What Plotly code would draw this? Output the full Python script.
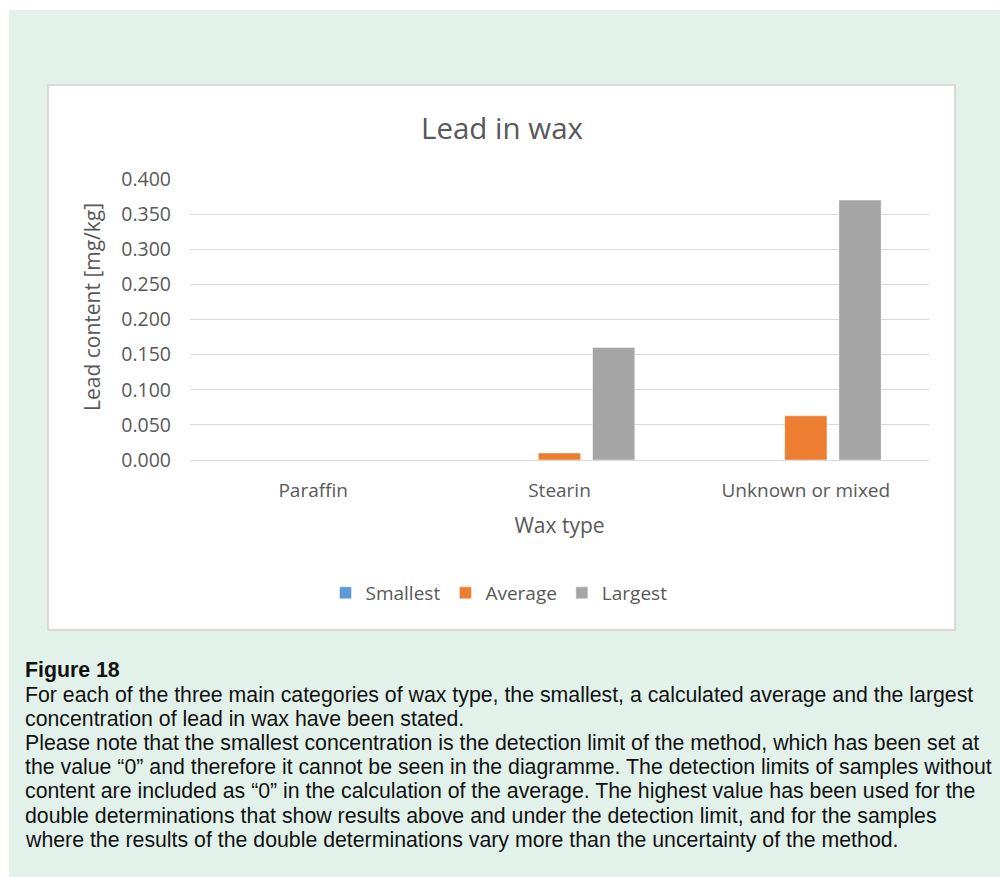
import plotly.graph_objects as go

# Wax categories and lead content (mg/kg) per statistic
categories = ["Paraffin", "Stearin", "Unknown or mixed"]
smallest = [0.0, 0.0, 0.0]
average = [0.0, 0.01, 0.063]
largest = [0.0, 0.16, 0.37]

series_names = ["Smallest", "Average", "Largest"]
series_colors = ["#5b9bd5", "#ed7d31", "#a5a5a5"]
y_ticks = [0.0, 0.05, 0.10, 0.15, 0.20, 0.25, 0.30, 0.35, 0.40]

caption_title = "Figure 18"
caption_lines = [
    "For each of the three main categories of wax type, the smallest, a calculated average and the largest",
    "concentration of lead in wax have been stated.",
    "Please note that the smallest concentration is the detection limit of the method, which has been set at",
    "the value \u201c0\u201d and therefore it cannot be seen in the diagramme. The detection limits of samples without",
    "content are included as \u201c0\u201d in the calculation of the average. The highest value has been used for the",
    "double determinations that show results above and under the detection limit, and for the samples",
    "where the results of the double determinations vary more than the uncertainty of the method.",
]

W, H = 1000, 877


def px(x):
    return x / W


def py(y):
    return 1 - y / H


CHART_FONT = "'Open Sans', Lato, sans-serif"
CAPTION_FONT = "Liberation Sans, Arial, sans-serif"
TEXT_GRAY = "#595959"

fig = go.Figure()
for name, vals, col in zip(series_names, [smallest, average, largest], series_colors):
    fig.add_trace(go.Bar(
        name=name, x=categories, y=vals,
        marker=dict(color=col, line=dict(color="rgba(255,255,255,0.45)", width=1)),
    ))

fig.update_layout(
    width=W, height=H,
    margin=dict(l=0, r=0, t=0, b=0, autoexpand=False),
    paper_bgcolor="white",
    plot_bgcolor="white",
    barmode="group",
    bargap=0.34,
    bargroupgap=0.22,
    font=dict(family=CHART_FONT, color=TEXT_GRAY),
    title=dict(text="Lead in wax", x=px(502), y=py(129), xanchor="center", yanchor="middle",
               xref="paper", yref="paper", automargin=False,
               font=dict(size=29.5, color=TEXT_GRAY, family=CHART_FONT)),
    xaxis=dict(
        domain=[px(190), px(929)],
        showgrid=False, showline=True, linecolor="#d9d9d9", linewidth=1,
        ticks="", ticklabelstandoff=13, automargin=False,
        tickfont=dict(size=19, color=TEXT_GRAY),
        title=dict(text="Wax type", standoff=16, font=dict(size=21, color=TEXT_GRAY)),
    ),
    yaxis=dict(
        domain=[py(460), py(179)],
        range=[0, 0.4],
        tickvals=y_ticks, tickformat=".3f",
        showgrid=True, gridcolor="#d9d9d9", gridwidth=1,
        zeroline=False, showline=False, automargin=False,
        ticks="", ticklabelstandoff=18,
        tickfont=dict(size=19.5, color=TEXT_GRAY),
    ),
    legend=dict(
        orientation="h", x=px(499), y=py(593), xanchor="center", yanchor="middle",
        font=dict(size=19, color=TEXT_GRAY), itemwidth=30, traceorder="normal",
        bgcolor="rgba(0,0,0,0)",
    ),
    shapes=[
        # outer tinted panel
        dict(type="rect", xref="paper", yref="paper", layer="below",
             x0=px(9), x1=px(1000), y0=py(877), y1=py(10),
             fillcolor="#e2f1ea", line=dict(width=0)),
        # chart area frame
        dict(type="rect", xref="paper", yref="paper", layer="below",
             x0=px(48), x1=px(955), y0=py(630), y1=py(85),
             fillcolor="white", line=dict(color="#d9d9d9", width=2)),
    ],
)

# vertical axis title
annotations = [dict(
    text="Lead content [mg/kg]", textangle=-90, x=px(92), y=py(307),
    xref="paper", yref="paper", xanchor="center", yanchor="middle", showarrow=False,
    font=dict(family=CHART_FONT, size=21, color=TEXT_GRAY),
)]

# caption block below the chart
annotations.append(dict(
    text="<b>" + caption_title + "</b>", x=px(23), y=py(670), xref="paper", yref="paper",
    xanchor="left", yanchor="middle", showarrow=False,
    font=dict(family=CAPTION_FONT, size=21.3, color="#111111"),
))
for i, line in enumerate(caption_lines):
    annotations.append(dict(
        text=line, x=px(23), y=py(694.5 + i * 24.2), xref="paper", yref="paper",
        xanchor="left", yanchor="middle", showarrow=False,
        font=dict(family=CAPTION_FONT, size=21.3, color="#111111"),
    ))
fig.update_layout(annotations=annotations)

fig.write_html("out.html")
